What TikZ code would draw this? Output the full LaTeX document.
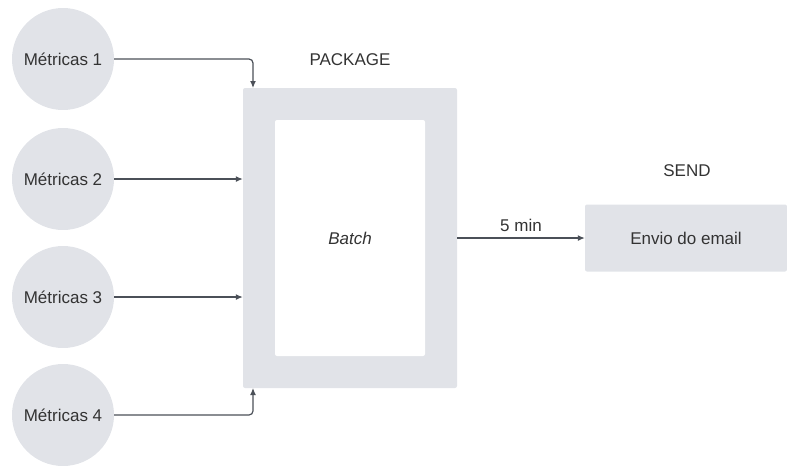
\documentclass[tikz,border=0pt]{standalone}
\usepackage{fontspec}
\setmainfont{Liberation Sans}
\usetikzlibrary{arrows.meta}
\definecolor{boxfill}{HTML}{E1E3E8}
\definecolor{wire}{HTML}{4B5058}
\definecolor{ink}{HTML}{333333}
\begin{document}
\begin{tikzpicture}[x=1pt,y=-1pt,
  every node/.style={font=\fontsize{17}{20}\selectfont, text=ink},
  metric/.style={circle, fill=boxfill, minimum size=102pt, inner sep=0pt},
  panel/.style={fill=boxfill, rounded corners=2pt, inner sep=0pt},
  label/.style={inner sep=0pt},
  link/.style={draw=wire, line width=1.2pt, -{Latex[length=7pt,width=6pt]}, rounded corners=4pt}]
\useasboundingbox (0,0) rectangle (787,466);

% Inputs
\node[metric] (m1) at (63,59) {Métricas 1};
\node[metric] (m2) at (63,179) {Métricas 2};
\node[metric] (m3) at (63,297) {Métricas 3};
\node[metric] (m4) at (63,415) {Métricas 4};

% Package stage
\node[panel, minimum width=214pt, minimum height=300pt] (pkg) at (350,238) {};
\node[fill=white, rounded corners=2pt, minimum width=150pt, minimum height=236pt, inner sep=0pt] (batch) at (350,238) {\itshape Batch};
\node[label] (pkgt) at (350,60) {PACKAGE};

% Send stage
\node[panel, minimum width=202pt, minimum height=67pt] (send) at (686,238) {Envio do email};
\node[label] (sendt) at (687,171) {SEND};

% Connectors
\coordinate (p1) at (253,88);
\coordinate (p4) at (253,388);
\draw[link] (m1.east) -| (p1);
\draw[link] (m2.east) -- (m2.east -| pkg.west);
\draw[link] (m3.east) -- (m3.east -| pkg.west);
\draw[link] (m4.east) -| (p4);
\draw[link] (pkg.east) -- node[label, above=6pt] {5 min} (send.west);
\end{tikzpicture}
\end{document}
